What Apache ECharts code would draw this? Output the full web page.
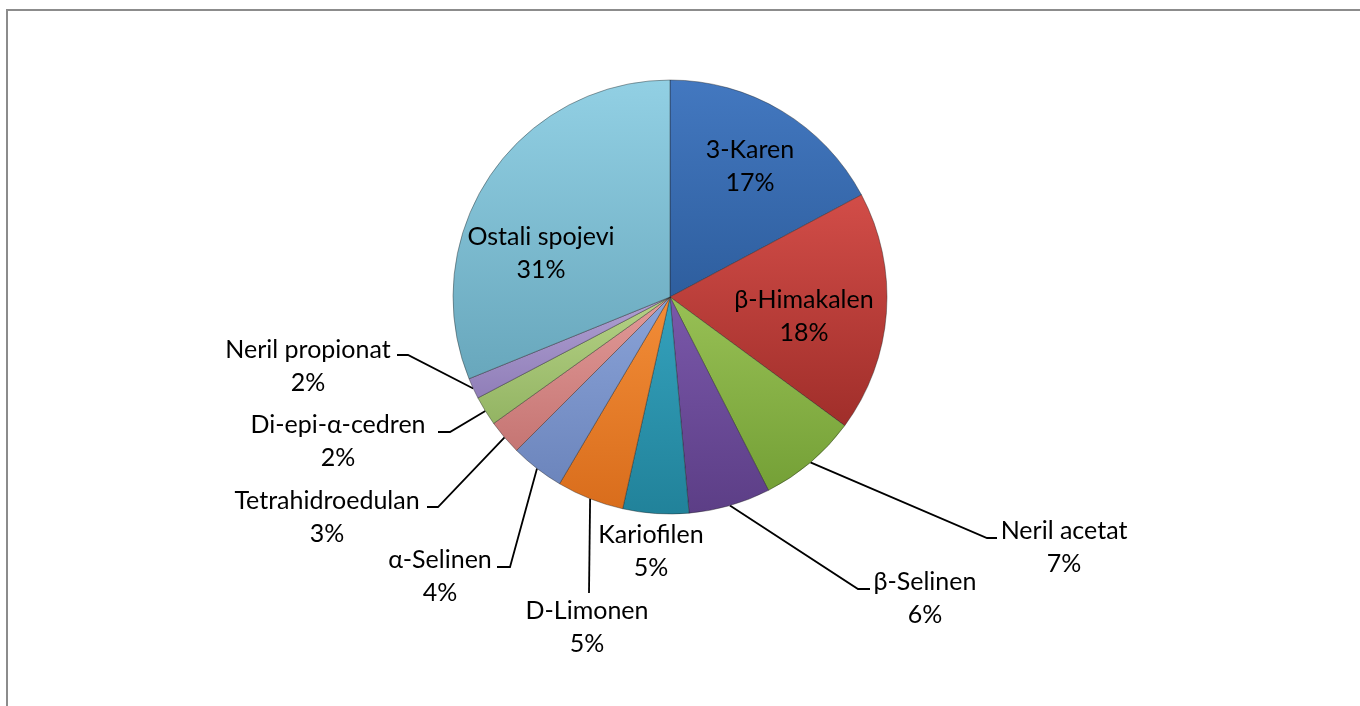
<!DOCTYPE html>
<html>
<head>
<meta charset="utf-8">
<script src="https://cdn.jsdelivr.net/npm/echarts@6/dist/echarts.min.js"></script>
<style>
html, body { margin: 0; padding: 0; background: #fff; }
#chart { width: 1360px; height: 706px; }
</style>
</head>
<body>
<div id="chart"></div>
<script>
// ---- data ----
const categories = ['3-Karen', 'β-Himakalen', 'Neril acetat', 'β-Selinen', 'Kariofilen', 'D-Limonen',
  'α-Selinen', 'Tetrahidroedulan', 'Di-epi-α-cedren', 'Neril propionat', 'Ostali spojevi'];
const values = [17.2, 17.9, 7.4, 6.1, 4.9, 5.0, 4.0, 2.6, 2.2, 1.55, 31.15];

// ---- styles (top colour, bottom colour of each slice gradient) ----
const colorsTop = ['#4378C0', '#D24D48', '#98C055', '#7A58AA', '#35A2BD', '#F28D38',
  '#8AA3D8', '#E29A98', '#B5D286', '#AFA0D2', '#92D0E4'];
const colorsBottom = ['#2E5E9E', '#A02E2A', '#74A036', '#5C3E86', '#21829A', '#D96D1C',
  '#6C85BC', '#C57573', '#93B463', '#907EB8', '#68A7BC'];

// ---- label layout (label centre, leader-line elbow and end) ----
const labelPos = [
  { x: 750, y: 166 }, { x: 804, y: 316 },
  { x: 1064, y: 547, elbow: [987, 538], end: [997, 538] },
  { x: 925, y: 598, elbow: [858, 589], end: [870, 589] },
  { x: 651, y: 551 },
  { x: 587, y: 627, elbow: [589, 593], end: [589, 593] },
  { x: 440, y: 576, elbow: [510, 567], end: [497, 567] },
  { x: 327, y: 517, elbow: [438, 507], end: [427, 507] },
  { x: 338, y: 441, elbow: [450, 432], end: [438, 432] },
  { x: 308, y: 366, elbow: [408, 355], end: [397, 355] },
  { x: 541, y: 253 }
];

const chart = echarts.init(document.getElementById('chart'), null, { renderer: 'canvas' });

const seriesData = categories.map((name, i) => ({
  name: name,
  value: values[i],
  itemStyle: {
    color: new echarts.graphic.LinearGradient(0, 0, 0, 1, [
      { offset: 0, color: colorsTop[i] },
      { offset: 1, color: colorsBottom[i] }
    ])
  },
  labelLine: { show: !!labelPos[i].end }
}));

chart.setOption({
  backgroundColor: '#ffffff',
  animation: false,
  graphic: [{
    type: 'rect',
    shape: { x: 7, y: 10, width: 1400, height: 800 },
    style: { fill: 'none', stroke: '#8c8c8c', lineWidth: 2 },
    silent: true
  }],
  series: [{
    type: 'pie',
    center: [670, 297],
    radius: 217,
    startAngle: 90,
    clockwise: true,
    avoidLabelOverlap: false,
    data: seriesData,
    itemStyle: {
      borderColor: 'rgba(30,30,30,0.4)',
      borderWidth: 1
    },
    label: {
      show: true,
      position: 'outside',
      formatter: p => p.name + '\n' + Math.round(p.percent) + '%',
      color: '#000',
      fontFamily: 'Lato',
      fontSize: 25,
      lineHeight: 33,
      align: 'center'
    },
    labelLine: {
      show: true,
      lineStyle: { color: '#000', width: 1.8 }
    },
    labelLayout: function (params) {
      const lp = labelPos[params.dataIndex];
      const out = { x: lp.x, y: lp.y, align: 'center', verticalAlign: 'middle' };
      if (lp.end && params.labelLinePoints) {
        out.labelLinePoints = [params.labelLinePoints[0], lp.elbow, lp.end];
      }
      return out;
    }
  }]
});
</script>
</body>
</html>
